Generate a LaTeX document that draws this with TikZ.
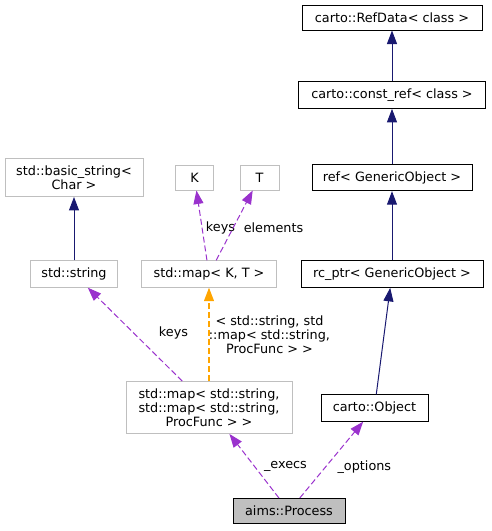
\documentclass[tikz,border=0pt]{standalone}
\usepackage{fontspec}
\setmainfont{DejaVu Sans}
\usetikzlibrary{arrows.meta,calc}
\definecolor{navyedge}{HTML}{191970}
\definecolor{purpleedge}{HTML}{9A32CD}
\definecolor{orangeedge}{HTML}{FFA500}
\definecolor{greyborder}{HTML}{BFBFBF}
\definecolor{greyfill}{HTML}{BFBFBF}
\tikzset{%
        >={Triangle[length=13.5pt,width=10pt]},
        font=\fontsize{12.8pt}{14pt}\selectfont
}
\tikzstyle{cls}=[
    draw = black,
    fill = white,
    line width = 1pt,
    minimum height = 25pt,
    inner xsep = 4pt,
    inner ysep = 7pt,
    align = center
]
\tikzstyle{ext}=[
    cls,
    draw = greyborder
]
\tikzstyle{every edge}=[
    draw,
    ->,
    line width = 1pt
]
\tikzstyle{inherit}=[draw = navyedge]
\tikzstyle{usage}=[draw = purpleedge, dash pattern = on 6pt off 3pt]
\tikzstyle{templ}=[draw = orangeedge, line width = 1.2pt, dash pattern = on 6pt off 3pt]

\begin{document}
\begin{tikzpicture}[x=1pt, y=-1pt]
        \useasboundingbox (0,0) rectangle (491,531);
        % carto side
        \node[cls, minimum width=180pt] (refdata) at (392,17.5) {carto::RefData< class >};
        \node[cls, minimum width=187pt] (constref) at (392,95) {carto::const\_ref< class >};
        \node[cls, minimum width=160pt] (refgo) at (392,177.5) {ref< GenericObject >};
        \node[cls, minimum width=182pt] (rcptr) at (392,274) {rc\_ptr< GenericObject >};
        \node[cls, minimum width=107pt] (object) at (374.5,408) {carto::Object};
        \node[cls, fill=greyfill, minimum width=112pt] (process) at (289,511) {aims::Process};
        % std side
        \node[ext, minimum width=166pt] (execmap) at (209,407.5) {std::map< std::string,\\ std::map< std::string,\\ProcFunc > >};
        \node[ext, minimum width=138pt] (basicstr) at (74,177.5) {std::basic\_string<\\Char >};
        \node[ext, minimum width=87pt] (string) at (74,274) {std::string};
        \node[ext, minimum width=38pt] (K) at (194.5,177.5) {K};
        \node[ext, minimum width=39pt] (T) at (259.5,177.5) {T};
        \node[ext, minimum width=135pt] (mapkt) at (209,274) {std::map< K, T >};
      \path
      (constref)
      edge[inherit] (refdata)
      (refgo)
      edge[inherit] (constref)
      (rcptr)
      edge[inherit] (refgo)
      (object)
      edge[inherit] (rcptr)
      (string)
      edge[inherit] (basicstr)
      (process)
      edge[usage] node[right=6pt, pos=0.5]{\_execs} (execmap)
      edge[usage] node[right=8pt, pos=0.41]{\_options} (object)
      (execmap)
      edge[usage] node[right=21pt, pos=0.51]{keys} (string)
      edge[templ] node[right=-4pt, pos=0.5, align=center]{< std::string, std\\::map< std::string,\\ProcFunc > >} (mapkt)
      (mapkt)
      edge[usage] node[right=0pt, pos=0.46]{keys} (K)
      edge[usage] node[right=7pt, pos=0.46]{elements} (T)
      ;
    \end{tikzpicture}
\end{document}
